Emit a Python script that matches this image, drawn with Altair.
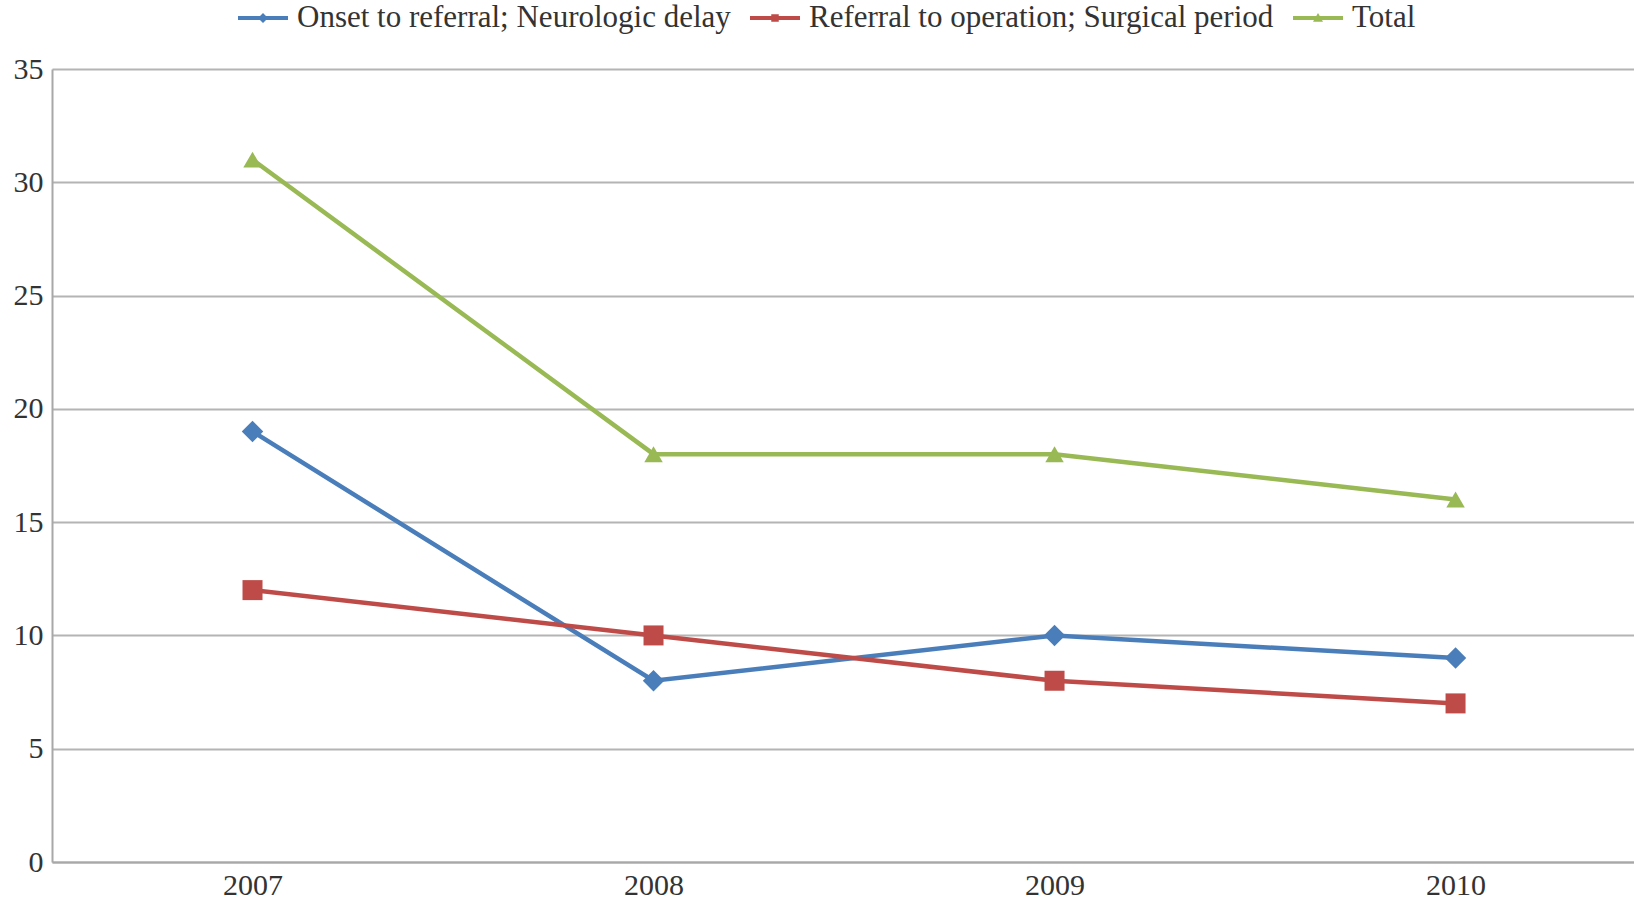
import altair as alt
import pandas as pd

years = [2007, 2008, 2009, 2010]
series_names = [
    "Onset to referral; Neurologic delay",
    "Referral to operation; Surgical period",
    "Total",
]
neurologic_delay = [19, 8, 10, 9]
surgical_period = [12, 10, 8, 7]
total = [31, 18, 18, 16]

colors = ["#4a7ebb", "#be4b48", "#98b954"]
marker_shapes = ["diamond", "square", "triangle-up"]
marker_sizes = [460, 340, 460]

# legend glyphs: a short bar standing for the line, with the series marker on it
legend_glyphs = [
    "M-1,-0.08H1V0.08H-1ZM0,-0.2L0.2,0L0,0.2L-0.2,0Z",
    "M-1,-0.08H1V0.08H-1ZM-0.15,-0.15H0.15V0.15H-0.15Z",
    "M-1,-0.08H1V0.08H-1ZM0,-0.2L0.2,0.15H-0.2Z",
]

rows = []
for name, values in zip(series_names, [neurologic_delay, surgical_period, total]):
    for y, v in zip(years, values):
        rows.append({"year": y, "days": v, "series": name, "marker": name})
df = pd.DataFrame(rows)

FONT = "Liberation Serif"
TEXT = "#333333"

x_enc = alt.X(
    "year:Q",
    scale=alt.Scale(domain=[2006.5, 2010.445], nice=False, zero=False),
    axis=alt.Axis(
        values=years,
        format="d",
        title=None,
        grid=False,
        ticks=False,
        labelPadding=8,
    ),
)
y_enc = alt.Y(
    "days:Q",
    scale=alt.Scale(domain=[0, 35], nice=False),
    axis=alt.Axis(
        values=[0, 5, 10, 15, 20, 25, 30, 35],
        title=None,
        ticks=False,
        labelPadding=9,
    ),
)

lines = alt.Chart(df).mark_line(strokeWidth=4.5).encode(
    x=x_enc,
    y=y_enc,
    color=alt.Color(
        "series:N",
        scale=alt.Scale(domain=series_names, range=colors),
        legend=None,
    ),
    detail="series:N",
)

points = alt.Chart(df).mark_point(filled=True, opacity=1).encode(
    x=x_enc,
    y=y_enc,
    fill=alt.Fill(
        "marker:N",
        scale=alt.Scale(domain=series_names, range=colors),
        legend=None,
    ),
    shape=alt.Shape(
        "marker:N",
        scale=alt.Scale(domain=series_names, range=marker_shapes),
        legend=None,
    ),
    size=alt.Size(
        "marker:N",
        scale=alt.Scale(domain=series_names, range=marker_sizes),
        legend=None,
    ),
)

legend_cfg = alt.Legend(
    title=None,
    orient="none",
    direction="horizontal",
    legendX=186,
    legendY=-76,
    symbolSize=2500,
    symbolStrokeWidth=0,
    symbolOpacity=1,
    labelFont=FONT,
    labelFontSize=31,
    labelColor=TEXT,
    labelLimit=800,
    labelOffset=9,
    columnPadding=19,
)

# key-only layer: no rows pass the filter, the legend is built from the scale domain
key = (
    alt.Chart(df)
    .transform_filter("false")
    .mark_point(filled=True)
    .encode(
        x=x_enc,
        y=y_enc,
        fill=alt.Fill(
            "series:N",
            scale=alt.Scale(domain=series_names, range=colors),
            legend=legend_cfg,
        ),
        shape=alt.Shape(
            "series:N",
            scale=alt.Scale(domain=series_names, range=legend_glyphs),
            legend=legend_cfg,
        ),
    )
)

chart = (
    alt.layer(lines, points, key)
    .resolve_scale(fill="independent", shape="independent")
    .properties(
        width=1582,
        height=793,
        autosize=alt.AutoSizeParams(type="none"),
        padding={"left": 52, "top": 69, "right": 0, "bottom": 38},
        background="white",
    )
    .configure_view(stroke=None)
    .configure_axis(
        labelFont=FONT,
        labelFontSize=30,
        labelColor=TEXT,
        domainColor="#a8a8a8",
        domainWidth=2,
        gridColor="#b4b4b4",
        gridWidth=2,
    )
)

chart.save("out.html", embed_options={"renderer": "svg", "actions": False})
